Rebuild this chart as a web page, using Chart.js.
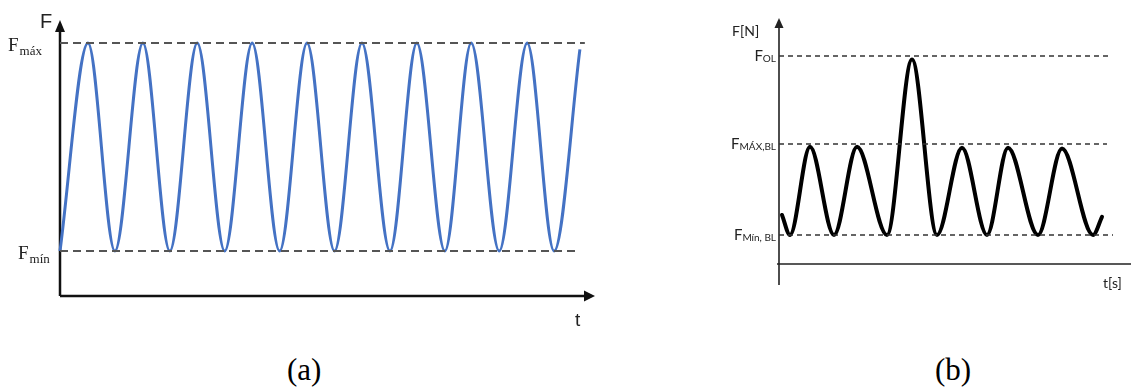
<!DOCTYPE html>
<html>
<head>
<meta charset="utf-8">
<script src="https://cdn.jsdelivr.net/npm/chart.js@4/dist/chart.umd.min.js"></script>
<style>
  html, body { margin: 0; padding: 0; background: #fff; }
  body { width: 1131px; height: 387px; position: relative; overflow: hidden; }
  #wrapA { position: absolute; left: 0; top: 0; width: 640px; height: 340px; }
  #wrapB { position: absolute; left: 700px; top: 0; width: 431px; height: 300px; }
  .caption {
    position: absolute; top: 354px; line-height: 31px;
    font-family: 'Liberation Serif', 'Times New Roman', serif; font-size: 31px; color: #000;
  }
</style>
</head>
<body>
<div id="wrapA"><canvas id="chartA"></canvas></div>
<div id="wrapB"><canvas id="chartB"></canvas></div>
<div class="caption" style="left:287px">(a)</div>
<div class="caption" style="left:935px">(b)</div>

<script>
// (a) constant amplitude cycle, F between F_min (0) and F_max (1)
const timeA  = [0, 0.51, 1.0, 1.51, 2.0, 2.50, 3.0, 3.50, 4.0, 4.50, 5.0, 5.50, 6.01, 6.50, 7.01, 7.49, 8.0, 8.51, 9.0, 9.47];
const forceA = [0, 1,    0,   1,    0,   1,    0,   1,    0,   1,    0,   1,    0,    1,    0,    1,    0,   1,    0,   0.97];
const levelNamesA  = ['máx', 'mín'];
const levelValuesA = [1, 0];
const levelEndsA   = [9.56, 9.40];
const axisTitlesA  = ['F', 't'];

// (b) base load with one overload peak
const timeB  = [0.06, 0.22, 0.62, 1.10, 1.56, 2.16, 2.66, 3.16, 3.66, 4.16, 4.58, 5.18, 5.66, 6.28, 6.46];
const forceB = [0.22, 0,    0.97, 0,    0.97, 0,    1.93, 0,    0.96, 0,    0.96, 0,    0.95, 0,    0.20];
const levelNamesB  = ['OL', 'MÁX,BL', 'Mín, BL'];
const levelValuesB = [1.967, 1, 0];
const levelEndsB   = [6.62, 6.56, 6.68];
const axisTitlesB  = ['F[N]', 't[s]'];

const toPoints = (xs, ys) => xs.map((x, i) => ({ x: x, y: ys[i] }));

function levelSets(values, ends, color, width, dash) {
  return values.map((v, i) => ({
    data: [{ x: 0, y: v }, { x: ends[i], y: v }],
    borderColor: color,
    borderWidth: width,
    borderDash: dash,
    pointRadius: 0,
    clip: false
  }));
}

function arrow(ctx, x, y, dir, len, half) {
  ctx.beginPath();
  if (dir === 'up') {
    ctx.moveTo(x, y); ctx.lineTo(x - half, y + len); ctx.lineTo(x + half, y + len);
  } else {
    ctx.moveTo(x, y); ctx.lineTo(x - len, y - half); ctx.lineTo(x - len, y + half);
  }
  ctx.closePath();
  ctx.fill();
}

function baseOptions(xMax, yMin, yMax, padding) {
  return {
    responsive: true,
    maintainAspectRatio: false,
    animation: false,
    events: [],
    layout: { padding: padding },
    plugins: { legend: { display: false }, tooltip: { enabled: false } },
    scales: {
      x: { type: 'linear', min: 0, max: xMax, display: false },
      y: { type: 'linear', min: yMin, max: yMax, display: false }
    }
  };
}

// axes + labels for (a)
const decorA = {
  id: 'decorA',
  beforeDatasetsDraw(chart) {
    const { ctx, scales: { x, y } } = chart;
    const x0 = x.getPixelForValue(0), y0 = y.getPixelForValue(y.min);
    const yTop = y.getPixelForValue(y.max), xEnd = x.getPixelForValue(x.max);
    ctx.save();
    ctx.strokeStyle = '#111'; ctx.fillStyle = '#111'; ctx.lineWidth = 2.5;
    ctx.beginPath();
    ctx.moveTo(x0, y0); ctx.lineTo(x0, yTop + 8);
    ctx.moveTo(x0, y0); ctx.lineTo(xEnd - 8, y0);
    ctx.stroke();
    arrow(ctx, x0, yTop, 'up', 12, 5);
    arrow(ctx, xEnd, y0, 'right', 11, 5.5);
    ctx.restore();
  },
  afterDraw(chart) {
    const { ctx, scales: { y } } = chart;
    ctx.save();
    ctx.fillStyle = '#222';
    ctx.textBaseline = 'alphabetic';
    ctx.font = '20px "Liberation Sans", sans-serif';
    ctx.fillText(axisTitlesA[0], 40, 28);
    ctx.font = '19px "Liberation Sans", sans-serif';
    ctx.fillText(axisTitlesA[1], 575, 326);
    const lx = [8, 18];
    levelValuesA.forEach((v, i) => {
      const py = y.getPixelForValue(v);
      ctx.font = '19px "Liberation Serif", serif';
      ctx.fillText('F', lx[i], py + 8);
      const w = ctx.measureText('F').width;
      ctx.font = '13px "Liberation Serif", serif';
      ctx.fillText(levelNamesA[i], lx[i] + w + 1, py + 12);
    });
    ctx.restore();
  }
};

// axes + labels for (b)
const decorB = {
  id: 'decorB',
  beforeDatasetsDraw(chart) {
    const { ctx, scales: { x, y } } = chart;
    const x0 = x.getPixelForValue(0);
    const yBottom = y.getPixelForValue(y.min), yTop = y.getPixelForValue(y.max);
    const yAxis = y.getPixelForValue(-0.319);
    ctx.save();
    ctx.strokeStyle = '#222'; ctx.fillStyle = '#222'; ctx.lineWidth = 1.6;
    ctx.beginPath();
    ctx.moveTo(x0, yBottom); ctx.lineTo(x0, yTop + 8);
    ctx.moveTo(x0 - 2, yAxis); ctx.lineTo(x.getPixelForValue(x.max), yAxis);
    ctx.stroke();
    arrow(ctx, x0, yTop, 'up', 10, 4.5);
    ctx.restore();
  },
  afterDraw(chart) {
    const { ctx, scales: { x, y } } = chart;
    const right = x.getPixelForValue(0) - 3;
    ctx.save();
    ctx.fillStyle = '#222';
    ctx.textBaseline = 'alphabetic';
    ctx.font = '14px Lato, "Open Sans", sans-serif';
    ctx.fillText(axisTitlesB[0], 32, 36);
    ctx.fillText(axisTitlesB[1], 403, 288);
    levelValuesB.forEach((v, i) => {
      const py = y.getPixelForValue(v);
      ctx.font = '10px Lato, "Open Sans", sans-serif';
      const ws = ctx.measureText(levelNamesB[i]).width;
      ctx.fillText(levelNamesB[i], right - ws, py + 6);
      ctx.font = '15px Lato, "Open Sans", sans-serif';
      const wf = ctx.measureText('F').width;
      ctx.fillText('F', right - ws - wf, py + 5);
    });
    ctx.restore();
  }
};

new Chart(document.getElementById('chartA'), {
  type: 'line',
  data: {
    datasets: [
      ...levelSets(levelValuesA, levelEndsA, '#555', 2, [8, 5]),
      {
        data: toPoints(timeA, forceA),
        borderColor: '#4472C4',
        borderWidth: 3,
        pointRadius: 0,
        cubicInterpolationMode: 'monotone',
        clip: false
      }
    ]
  },
  options: baseOptions(9.745, -0.216, 1.111, { left: 60, top: 20, right: 45, bottom: 44 }),
  plugins: [decorA]
});

new Chart(document.getElementById('chartB'), {
  type: 'line',
  data: {
    datasets: [
      ...levelSets(levelValuesB, levelEndsB, '#333', 1.5, [5, 4]),
      {
        data: toPoints(timeB, forceB),
        borderColor: '#000',
        borderWidth: 4,
        borderCapStyle: 'round',
        borderJoinStyle: 'round',
        pointRadius: 0,
        cubicInterpolationMode: 'monotone',
        clip: false
      }
    ]
  },
  options: baseOptions(7.04, -0.55, 2.385, { left: 79, top: 18, right: 0, bottom: 15 }),
  plugins: [decorB]
});
</script>
</body>
</html>
